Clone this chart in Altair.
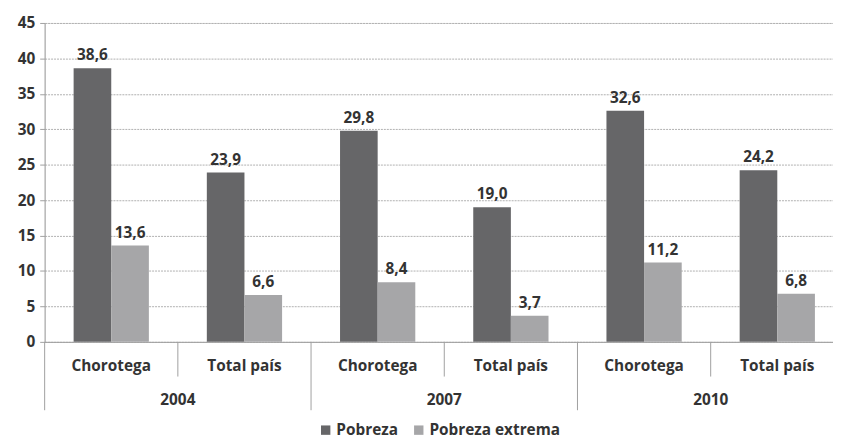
import altair as alt
import pandas as pd

years = ["2004", "2004", "2007", "2007", "2010", "2010"]
regions = ["Chorotega", "Total país", "Chorotega", "Total país", "Chorotega", "Total país"]
pobreza = [38.6, 23.9, 29.8, 19.0, 32.6, 24.2]
extrema = [13.6, 6.6, 8.4, 3.7, 11.2, 6.8]
series = ["Pobreza", "Pobreza extrema"]
colors = ["#666668", "#a6a6a8"]
yticks = [0, 5, 10, 15, 20, 25, 30, 35, 40, 45]

keys = [f"{y}|{r}" for y, r in zip(years, regions)]

rows = []
for k, p, e in zip(keys, pobreza, extrema):
    rows.append({"cat": k, "serie": series[0], "valor": p, "txt": f"{p:.1f}".replace(".", ",")})
    rows.append({"cat": k, "serie": series[1], "valor": e, "txt": f"{e:.1f}".replace(".", ",")})
df = pd.DataFrame(rows)

FONT = "Open Sans"
FS = 15.5
TXT = "#333333"
LINE = "#a0a0a0"

# the category band continues past the right edge of the picture, as in the original
xscale = alt.Scale(domain=keys, paddingInner=0, paddingOuter=0, range=[0, 807])
offscale = alt.Scale(paddingInner=0, paddingOuter=0.77)
yscale = alt.Scale(domain=[0, 45], nice=False, zero=True)

xaxis = alt.Axis(
    labelExpr="split(datum.label, '|')[1]", labelAngle=0, ticks=False,
    labelPadding=17, labelFont=FONT, labelFontSize=FS, labelFontWeight="bold",
    labelColor=TXT, domainColor=LINE, domainWidth=1, grid=False,
)
yaxis = alt.Axis(
    values=yticks, labelFont=FONT, labelFontSize=FS, labelOverlap=False,
    labelFontWeight="bold", labelColor=TXT, domainColor=LINE, tickColor=LINE,
    tickSize=5, labelPadding=5, grid=True, gridColor="#b0b0b0", gridDash=[2, 1], gridWidth=1,
)


def xenc(band=None):
    if band is None:
        return alt.X("cat:N", scale=xscale, sort=keys, title=None, axis=xaxis)
    return alt.X("cat:N", scale=xscale, sort=keys, title=None, axis=xaxis, bandPosition=band)


yenc = alt.Y("valor:Q", title=None, scale=yscale, axis=yaxis)

bars = alt.Chart(df).mark_bar().encode(
    x=xenc(),
    xOffset=alt.XOffset("serie:N", scale=offscale, sort=series),
    y=yenc,
    color=alt.Color(
        "serie:N", sort=series, scale=alt.Scale(domain=series, range=colors),
        legend=alt.Legend(
            title=None, orient="none", legendX=276, legendY=403, direction="horizontal",
            symbolType="square", symbolSize=90, symbolStrokeWidth=0, labelFont=FONT,
            labelFontSize=FS, labelFontWeight="bold", labelColor=TXT, columnPadding=13,
            labelOffset=3, padding=0,
        ),
    ),
)

labels = alt.Chart(df).mark_text(
    baseline="alphabetic", dy=-8, font=FONT, fontSize=FS, fontWeight="bold", color=TXT
).encode(
    x=xenc(),
    xOffset=alt.XOffset("serie:N", scale=offscale, sort=series),
    y=yenc,
    text="txt:N",
)

short_df = pd.DataFrame({"cat": [k for k in keys if k.endswith("Total país")]})
long_df = pd.DataFrame({"cat": [k for k in keys if k.endswith("Chorotega")]})
year_df = pd.DataFrame({"cat": [k for k in keys if k.endswith("Total país")],
                        "year": [y for y, r in zip(years, regions) if r == "Total país"]})

short_rules = alt.Chart(short_df).mark_rule(color=LINE, strokeWidth=1).encode(
    x=xenc(0), y=alt.value(322), y2=alt.value(357),
)
long_rules = alt.Chart(long_df).mark_rule(color=LINE, strokeWidth=1).encode(
    x=xenc(0), y=alt.value(322), y2=alt.value(391),
)
year_text = alt.Chart(year_df).mark_text(
    baseline="middle", font=FONT, fontSize=FS, fontWeight="bold", color=TXT
).encode(
    x=xenc(0), y=alt.value(381), text="year:N",
)

chart = alt.layer(bars, labels, short_rules, long_rules, year_text).properties(
    width=796, height=322,
    autosize=alt.AutoSizeParams(type="none"),
    padding={"left": 37, "top": 13, "right": 0, "bottom": 100},
).configure_view(stroke=None).configure(background="white")

chart.save("out.html", embed_options={"renderer": "svg", "actions": False})
